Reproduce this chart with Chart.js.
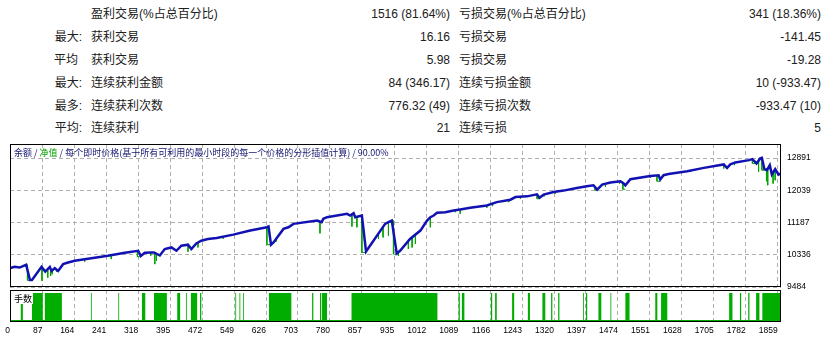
<!DOCTYPE html>
<html>
<head>
<meta charset="utf-8">
<script src="https://cdn.jsdelivr.net/npm/chart.js@4.4.0/dist/chart.umd.min.js"></script>
<style>
  html, body { margin: 0; padding: 0; background: #fff; }
  #page { position: relative; width: 834px; height: 345px; overflow: hidden;
    font-family: "Liberation Sans", "Noto Sans CJK SC", sans-serif; color: #202020; }
  .t { position: absolute; font-size: 12px; line-height: 16px; white-space: nowrap; }
  .r { text-align: right; }
  canvas { position: absolute; left: 0; }
  #head { position: absolute; left: 14px; top: 147px; font-size: 9px; line-height: 11px;
    color: #14146e; font-family: "Noto Sans CJK SC", sans-serif; white-space: nowrap; z-index: 2; }
  #head .g { color: #00a000; }
  #lotsTag { position: absolute; left: 13px; top: 293px; padding: 0 1px; font-size: 9px; line-height: 11px;
    background: #fff; color: #000; font-family: "Noto Sans CJK SC", sans-serif; z-index: 2; }
</style>
</head>
<body>
<div id="page">
  <div id="table"></div>
  <canvas id="equityChart" width="834" height="152" style="top:140px"></canvas>
  <canvas id="lotsChart" width="834" height="58" style="top:287px"></canvas>
  <div id="head">余额 / <span class="g">净值</span> / 每个即时价格(基于所有可利用的最小时段的每一个价格的分形插值计算) / 90.00%</div>
  <div id="lotsTag">手数</div>
</div>
<script>
// report table
const rowPrefix = ['', '最大:', '平均', '最大:', '最多:', '平均:'];
const winLabels = ['盈利交易(%占总百分比)', '获利交易', '获利交易', '连续获利金额', '连续获利次数', '连续获利'];
const winValues = ['1516 (81.64%)', '16.16', '5.98', '84 (346.17)', '776.32 (49)', '21'];
const lossLabels = ['亏损交易(%占总百分比)', '亏损交易', '亏损交易', '连续亏损金额', '连续亏损次数', '连续亏损'];
const lossValues = ['341 (18.36%)', '-141.45', '-19.28', '10 (-933.47)', '-933.47 (10)', '5'];

// chart axes
const xTickLabels = [0, 87, 164, 241, 318, 395, 472, 549, 626, 703, 780, 857, 935, 1012,
  1089, 1166, 1243, 1320, 1397, 1474, 1551, 1628, 1705, 1782, 1859];
const yTicks = [9484, 10336, 11187, 12039, 12891];

// balance curve (trade #, balance)
const balanceT = [10, 20, 32, 48, 57, 62, 85, 94, 105, 109, 117, 125, 137, 149, 165, 197, 245, 286, 318, 324,
  334, 350, 356, 370, 382, 398, 410, 422, 438, 446, 458, 470, 486, 507, 547, 588, 628, 632, 638, 644,
  668, 680, 692, 749, 760, 764, 773, 821, 829, 837, 841, 857, 867, 913, 921, 929, 941, 949, 973, 998,
  1014, 1022, 1030, 1038, 1058, 1078, 1094, 1118, 1158, 1182, 1215, 1227, 1255, 1279, 1285, 1295, 1319, 1343, 1375, 1399,
  1415, 1424, 1436, 1456, 1480, 1488, 1492, 1504, 1552, 1572, 1576, 1584, 1596, 1641, 1681, 1729, 1737, 1745, 1757, 1790,
  1798, 1808, 1817, 1821, 1827, 1833, 1840, 1845, 1853, 1861, 1866];
const balanceV = [9985, 10016, 9998, 10070, 9670, 9670, 10016, 9891, 10016, 9910, 9982, 9910, 10088, 10131, 10176, 10229, 10309, 10389, 10442, 10301,
  10389, 10397, 10397, 10317, 10488, 10530, 10442, 10575, 10602, 10488, 10637, 10708, 10754, 10780, 10868, 10975, 11063, 11081, 10602, 10663,
  11020, 11063, 11153, 11241, 11196, 11286, 11329, 11419, 11374, 11435, 11329, 11374, 10424, 11153, 11196, 11241, 10370, 10442, 10754, 10975,
  11241, 11329, 11374, 11446, 11462, 11507, 11534, 11579, 11640, 11728, 11792, 11861, 11880, 11933, 11845, 11925, 11994, 12032, 12101, 12146,
  12173, 12058, 12191, 12244, 12279, 12218, 12173, 12332, 12420, 12439, 12324, 12439, 12473, 12545, 12633, 12724, 12633, 12724, 12777, 12838,
  12865, 12750, 12883, 12899, 12598, 12572, 12705, 12457, 12598, 12457, 12484];

// equity drawdowns below the balance (start trade, end trade, from, down to)
const dipStart = [51, 86, 100, 107, 111, 121, 189, 253, 316, 348, 358, 362, 438, 462, 523, 628, 650, 756, 833, 845,
  857, 897, 908, 921, 933, 945, 969, 978, 986, 1022, 1082, 1094, 1158, 1172, 1211, 1239, 1279, 1296, 1323, 1419,
  1444, 1478, 1486, 1552, 1568, 1649, 1729, 1755, 1798, 1813, 1821, 1832, 1835, 1848, 1853];
const dipEnd = [58, 86, 100, 107, 111, 121, 189, 253, 322, 348, 358, 362, 438, 462, 523, 638, 650, 756, 833, 845,
  867, 897, 908, 921, 941, 945, 969, 978, 986, 1022, 1082, 1094, 1158, 1172, 1211, 1239, 1285, 1296, 1323, 1424,
  1444, 1478, 1492, 1552, 1576, 1649, 1729, 1755, 1808, 1813, 1827, 1832, 1835, 1848, 1853];
const dipTop = [10070, 9990, 9963, 9960, 9960, 9930, 10210, 10320, 10440, 10397, 10397, 10380, 10602, 10650, 10810, 11063, 10740, 11230, 11430, 11340,
  11374, 10921, 11050, 11196, 11241, 10400, 10700, 10790, 10860, 11329, 11510, 11534, 11640, 11690, 11785, 11870, 11933, 11925, 12000, 12150,
  12210, 12275, 12218, 12420, 12430, 12560, 12724, 12770, 12865, 12880, 12899, 12580, 12600, 12520, 12598];
const dipLow = [9660, 9644, 9732, 9777, 9822, 9880, 10157, 10221, 10283, 10309, 10088, 10180, 10416, 10530, 10760, 10602, 10680, 10903, 11081, 11063,
  10397, 10754, 10796, 10841, 10354, 10309, 10488, 10530, 10621, 11063, 11462, 11419, 11579, 11622, 11728, 11818, 11818, 11880, 11952, 12040,
  12127, 12218, 12066, 12367, 12279, 12527, 12617, 12705, 12750, 12527, 12572, 12279, 12173, 12218, 12306];

// lot size blocks (start trade, end trade, lots); base lot between them
const baseLot = 0.1;
const lotStart = [35, 62, 93, 204, 270, 327, 356, 412, 433, 445, 467, 552, 562, 571, 633, 737, 756, 761, 832, 1090,
  1098, 1168, 1178, 1219, 1257, 1292, 1313, 1330, 1390, 1397, 1427, 1456, 1492, 1564, 1578, 1742, 1768, 1788, 1807, 1822];
const lotEnd = [40, 88, 134, 206, 272, 335, 387, 419, 435, 460, 470, 554, 564, 573, 687, 740, 759, 773, 1039, 1093,
  1104, 1171, 1182, 1224, 1262, 1299, 1316, 1333, 1392, 1400, 1434, 1458, 1502, 1569, 1593, 1750, 1771, 1791, 1815, 1868];
const lotSize = [0.9, 1.4, 1.4, 1.4, 1.4, 1.4, 1.4, 1.4, 1.4, 1.4, 1.4, 1.4, 1.4, 1.4, 1.4, 1.4, 1.4, 1.4, 1.4, 1.4,
  1.4, 1.4, 1.4, 1.4, 1.4, 1.4, 1.4, 1.4, 1.4, 1.4, 1.4, 1.4, 1.4, 1.4, 1.4, 1.4, 1.4, 1.4, 1.4, 1.4];

const X_MIN = 9;
const X_MAX = 1867;
const TICK_FONT = { family: 'Liberation Sans', size: 8.5 };
const GRID = '#b0b0b0';

// table
const table = document.getElementById('table');
const rowTop = [6, 29, 52, 75, 98, 120];
function cell(text, style, right) {
  const d = document.createElement('div');
  d.className = right ? 't r' : 't';
  d.textContent = text;
  Object.assign(d.style, style);
  table.appendChild(d);
}
rowPrefix.forEach((p, i) => {
  const top = rowTop[i] + 'px';
  cell(p, { left: '0px', width: i === 2 ? '78px' : '82px', top }, true);
  cell(winLabels[i], { left: '91px', top });
  cell(winValues[i], { left: '300px', width: '150px', top }, true);
  cell(lossLabels[i], { left: '459px', top });
  cell(lossValues[i], { left: '660px', width: '161px', top }, true);
});

// black panel frame
const frame = {
  id: 'frame',
  afterDraw(chart) {
    const { ctx, chartArea: a } = chart;
    ctx.save();
    ctx.setLineDash([]);
    ctx.strokeStyle = '#000';
    ctx.lineWidth = 1;
    ctx.strokeRect(a.left + 0.5, a.top + 0.5, a.right - a.left - 1, a.bottom - a.top - 1);
    ctx.restore();
  }
};

function xAxis(showLabels) {
  return {
    type: 'linear',
    min: X_MIN,
    max: X_MAX,
    afterBuildTicks: (s) => { s.ticks = xTickLabels.map(v => ({ value: Math.max(v, X_MIN) })); },
    grid: { color: GRID, lineWidth: 1, drawTicks: false },
    border: { display: false, dash: [4, 3] },
    ticks: {
      display: showLabels, autoSkip: false, maxRotation: 0, align: 'end', padding: 4,
      color: '#000', font: TICK_FONT,
      callback: (v, i) => String(xTickLabels[i])
    },
    afterFit: (s) => {
      s.height = showLabels ? 23 : 0;
      s.paddingLeft = 0;
      s.paddingRight = 0;
    }
  };
}

const balancePts = balanceT.map((t, i) => ({ x: t, y: balanceV[i] }));
const equityPts = [];
dipStart.forEach((s, i) => {
  equityPts.push({ x: s, y: dipTop[i] }, { x: s, y: dipLow[i] }, { x: dipEnd[i], y: dipLow[i] }, { x: dipEnd[i], y: null });
});

new Chart(document.getElementById('equityChart'), {
  type: 'line',
  data: {
    datasets: [
      { label: '余额', data: balancePts, borderColor: '#1212b2', borderWidth: 2.5, pointRadius: 0, tension: 0 },
      { label: '净值', data: equityPts, borderColor: '#00a400', borderWidth: 1, pointRadius: 0, tension: 0, spanGaps: false }
    ]
  },
  options: {
    responsive: false,
    animation: false,
    devicePixelRatio: 1,
    layout: { padding: { left: 10, top: 4, right: 0, bottom: 5 } },
    plugins: { legend: { display: false }, tooltip: { enabled: false } },
    scales: {
      x: xAxis(false),
      y: {
        position: 'right',
        min: 9484,
        max: 13264,
        afterBuildTicks: (s) => { s.ticks = yTicks.map(v => ({ value: v })); },
        grid: { color: GRID, lineWidth: 1, drawTicks: false },
        border: { display: false, dash: [4, 3] },
        ticks: { padding: 6, color: '#000', font: TICK_FONT, callback: v => String(v) },
        afterFit: (s) => {
          s.width = 53;
          s.paddingTop = 0;
          s.paddingBottom = 0;
        }
      }
    }
  },
  plugins: [frame]
});

const lotPts = [{ x: X_MIN, y: baseLot }];
lotStart.forEach((s, i) => {
  lotPts.push({ x: s, y: lotSize[i] }, { x: lotEnd[i], y: baseLot });
});
lotPts.push({ x: X_MAX, y: baseLot });

new Chart(document.getElementById('lotsChart'), {
  type: 'line',
  data: {
    datasets: [
      { label: '手数', data: lotPts, stepped: true, fill: 'origin', backgroundColor: '#00ad00',
        borderColor: '#00ad00', borderWidth: 0, pointRadius: 0 }
    ]
  },
  options: {
    responsive: false,
    animation: false,
    devicePixelRatio: 1,
    layout: { padding: { left: 10, top: 3, right: 53, bottom: 0 } },
    plugins: { legend: { display: false }, tooltip: { enabled: false } },
    scales: {
      x: xAxis(true),
      y: { display: false, min: 0, max: 1.55 }
    }
  },
  plugins: [frame]
});
</script>
</body>
</html>
